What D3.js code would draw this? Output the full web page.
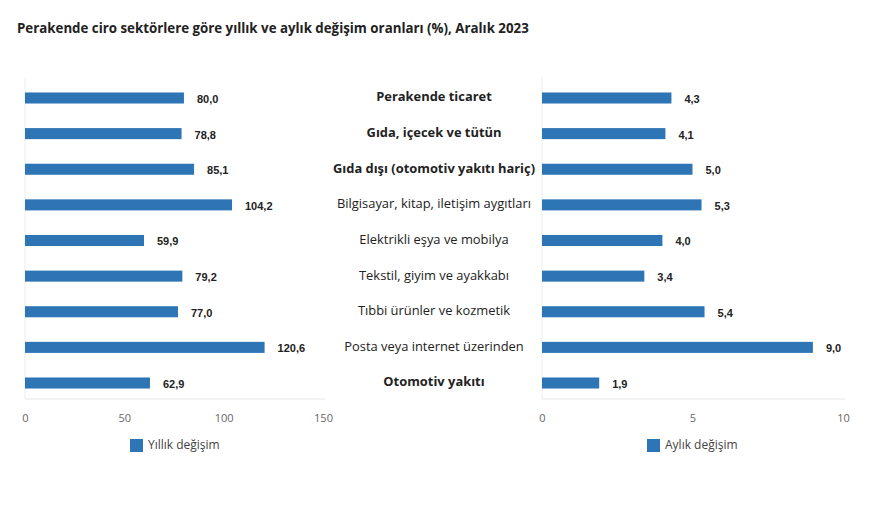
<!DOCTYPE html>
<html>
<head>
<meta charset="utf-8">
<script src="https://cdn.jsdelivr.net/npm/d3@7"></script>
<style>
  body { margin: 0; background: #fff; }
  svg { display: block; }
</style>
</head>
<body>
<svg id="chart"></svg>
<script>
const categories = [
    'Perakende ticaret',
    'Gıda, içecek ve tütün',
    'Gıda dışı (otomotiv yakıtı hariç)',
    'Bilgisayar, kitap, iletişim aygıtları',
    'Elektrikli eşya ve mobilya',
    'Tekstil, giyim ve ayakkabı',
    'Tıbbi ürünler ve kozmetik',
    'Posta veya internet üzerinden',
    'Otomotiv yakıtı'
];
const boldCategories = ['Perakende ticaret', 'Gıda, içecek ve tütün', 'Gıda dışı (otomotiv yakıtı hariç)', 'Otomotiv yakıtı'];
const yearly = [80.0, 78.8, 85.1, 104.2, 59.9, 79.2, 77.0, 120.6, 62.9];
const monthly = [4.3, 4.1, 5.0, 5.3, 4.0, 3.4, 5.4, 9.0, 1.9];
const yearlyTicks = [0, 50, 100, 150];
const monthlyTicks = [0, 5, 10];
const title = 'Perakende ciro sektörlere göre yıllık ve aylık değişim oranları (%), Aralık 2023';

let width = 880;
let height = 507;
let plotTop = 78;
let plotBottom = 399;
let barColor = '#2e75b6';
let fmt = d => d.toFixed(1).replace('.', ',');

let svg = d3.select('#chart')
    .attr('width', width)
    .attr('height', height);

svg.append('text')
    .attr('x', 17)
    .attr('y', 33)
    .attr('font-family', 'Open Sans, sans-serif')
    .attr('font-size', 13.3)
    .attr('font-weight', 'bold')
    .attr('fill', '#222')
    .text(title);

let yScale = d3.scaleBand()
    .domain(categories)
    .range([plotTop + 2, plotBottom + 2])
    .paddingInner(0.69)
    .paddingOuter(0.35);

const drawPanel = (values, domain, ticks, x0, x1, legendX, legendText) => {
    let xScale = d3.scaleLinear()
        .domain(domain)
        .range([x0, x1]);

    let g = svg.append('g');

    // faint plot frame
    g.append('line')
        .attr('x1', x0).attr('x2', x0)
        .attr('y1', plotTop).attr('y2', plotBottom)
        .attr('stroke', '#ececec');
    g.append('line')
        .attr('x1', x0).attr('x2', x1 + 2)
        .attr('y1', plotBottom).attr('y2', plotBottom)
        .attr('stroke', '#e6e6e6');

    g.selectAll('rect.bar')
        .data(values)
        .enter()
        .append('rect')
        .attr('class', 'bar')
        .attr('x', xScale(0))
        .attr('y', (d, i) => yScale(categories[i]))
        .attr('width', d => xScale(d) - xScale(0))
        .attr('height', yScale.bandwidth())
        .attr('fill', barColor);

    g.selectAll('text.val')
        .data(values)
        .enter()
        .append('text')
        .attr('class', 'val')
        .attr('x', d => xScale(d) + 13)
        .attr('y', (d, i) => yScale(categories[i]) + yScale.bandwidth() / 2 + 2)
        .attr('dominant-baseline', 'middle')
        .attr('font-family', 'Liberation Sans, Arial, sans-serif')
        .attr('font-size', 11)
        .attr('font-weight', 'bold')
        .attr('fill', '#222')
        .text(fmt);

    let axis = d3.axisBottom(xScale)
        .tickValues(ticks)
        .tickSize(0)
        .tickPadding(0);

    let ax = g.append('g')
        .attr('transform', 'translate(0,' + (plotBottom + 19) + ')')
        .call(axis);
    ax.select('.domain').remove();
    ax.selectAll('text')
        .attr('dy', '0.35em')
        .attr('font-family', 'Open Sans, sans-serif')
        .attr('font-size', 11)
        .attr('fill', '#666');

    g.append('rect')
        .attr('x', legendX)
        .attr('y', 439)
        .attr('width', 13)
        .attr('height', 13)
        .attr('fill', barColor);
    g.append('text')
        .attr('x', legendX + 18)
        .attr('y', 446)
        .attr('dominant-baseline', 'middle')
        .attr('font-family', 'Open Sans, sans-serif')
        .attr('font-size', 12)
        .attr('fill', '#444')
        .text(legendText);
};

drawPanel(yearly, [0, 150], yearlyTicks, 25, 323, 130, 'Yıllık değişim');
drawPanel(monthly, [0, 10], monthlyTicks, 542, 843, 647, 'Aylık değişim');

svg.selectAll('text.cat')
    .data(categories)
    .enter()
    .append('text')
    .attr('class', 'cat')
    .attr('x', 434)
    .attr('y', d => yScale(d) + yScale.bandwidth() / 2)
    .attr('dominant-baseline', 'middle')
    .attr('text-anchor', 'middle')
    .attr('font-family', 'Open Sans, sans-serif')
    .attr('font-size', 12.9)
    .attr('font-weight', d => boldCategories.includes(d) ? 'bold' : 'normal')
    .attr('fill', '#222')
    .text(d => d);
</script>
</body>
</html>
